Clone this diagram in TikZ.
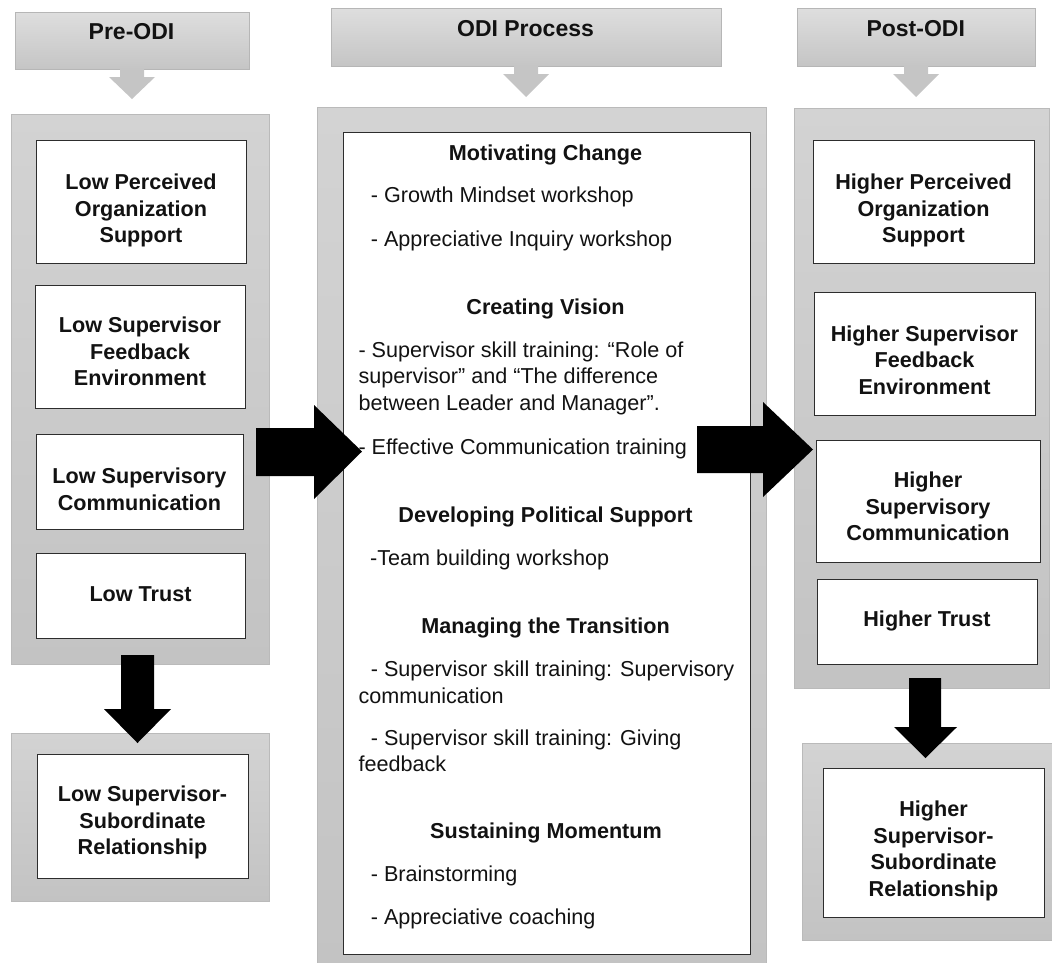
\documentclass[tikz,border=0pt]{standalone}
\usepackage{fontspec}
\setmainfont{Liberation Sans}

\definecolor{panelTop}{RGB}{211,211,211}
\definecolor{panelBot}{RGB}{195,195,195}
\definecolor{panelLine}{RGB}{186,186,186}
\definecolor{hdrTop}{RGB}{222,222,222}
\definecolor{hdrBot}{RGB}{197,197,197}
\definecolor{hdrLine}{RGB}{182,182,182}
\definecolor{boxLine}{RGB}{45,45,45}
\definecolor{ink}{RGB}{18,18,18}

\newcommand{\firstline}{\rule{0pt}{20pt}}

\begin{document}
\begin{tikzpicture}[x=1pt, y=-1pt,
  panel/.style={draw=panelLine, line width=0.8pt, top color=panelTop, bottom color=panelBot,
                inner sep=0pt, outer sep=0pt},
  header/.style={draw=hdrLine, line width=0.8pt, top color=hdrTop, bottom color=hdrBot,
                 inner sep=0pt, outer sep=0pt},
  hdrarrow/.style={fill=hdrBot},
  wbox/.style={draw=boxLine, line width=1pt, fill=white, inner sep=0pt, outer sep=0pt},
  hdrtext/.style={font=\bfseries\fontsize{23}{27}\selectfont, text=ink, anchor=base, inner sep=0pt},
  boxtext/.style={font=\bfseries\fontsize{21.6}{26.5}\selectfont, text=ink, align=center,
                  anchor=north, inner sep=0pt},
  stagehead/.style={font=\bfseries\fontsize{21.6}{26.5}\selectfont, text=ink, anchor=base, inner sep=0pt},
  itemtext/.style={font=\fontsize{21.6}{26.5}\selectfont, text=ink, anchor=base west, inner sep=0pt},
  blockarrow/.style={fill=black}
]
\useasboundingbox (0,0) rectangle (1052,962);

% ---- column headers with their small down arrows
\node[header, minimum width=234pt, minimum height=57pt] (hpre)  at (132,40.5) {};
\node[header, minimum width=390pt, minimum height=58pt] (hproc) at (526,37) {};
\node[header, minimum width=238pt, minimum height=58pt] (hpost) at (916,37) {};
\fill[hdrarrow] (120,68) -- (120,77) -- (109,77) -- (132,99) -- (155,77) -- (144,77) -- (144,68) -- cycle;
\fill[hdrarrow] (514,65) -- (514,74) -- (503,74) -- (526,97) -- (549,74) -- (538,74) -- (538,65) -- cycle;
\fill[hdrarrow] (904,65) -- (904,74) -- (893,74) -- (916,97) -- (939,74) -- (928,74) -- (928,65) -- cycle;
\node[hdrtext] (tpre)  at (131.5,39.3) {Pre-ODI};
\node[hdrtext] (tproc) at (525.5,36.7) {ODI Process};
\node[hdrtext] (tpost) at (915.7,36.7) {Post-ODI};

% ---- grey panels
\node[panel, minimum width=258pt, minimum height=550pt] (ppre)   at (140,389) {};
\node[panel, minimum width=449pt, minimum height=863pt] (pproc)  at (541.5,538.5) {};
\node[panel, minimum width=255pt, minimum height=580pt] (ppost)  at (921.5,398) {};
\node[panel, minimum width=258pt, minimum height=168pt] (preres) at (140,817) {};
\node[panel, minimum width=253pt, minimum height=197pt] (postres) at (928.5,841.5) {};

% ---- Pre-ODI boxes
\node[wbox, minimum width=210pt, minimum height=123pt] (l1) at (141,201.5) {};
\node[wbox, minimum width=210pt, minimum height=123pt] (l2) at (140,346.5) {};
\node[wbox, minimum width=207pt, minimum height=95pt]  (l3) at (139.5,481.5) {};
\node[wbox, minimum width=209pt, minimum height=85pt]  (l4) at (140.5,595.5) {};
\node[wbox, minimum width=211pt, minimum height=124pt] (l5) at (142.5,816) {};
\node[boxtext] (tl1) at (141,169.3)   {\firstline Low Perceived\\Organization\\Support};
\node[boxtext] (tl2) at (140,312.7)   {\firstline Low Supervisor\\Feedback\\Environment};
\node[boxtext] (tl3) at (139.5,463.3) {\firstline Low Supervisory\\Communication};
\node[boxtext] (tl4) at (140.5,581.7) {\firstline Low Trust};
\node[boxtext] (tl5) at (142.5,781.7) {\firstline Low Supervisor-\\Subordinate\\Relationship};

% ---- Post-ODI boxes
\node[wbox, minimum width=221pt, minimum height=123pt] (r1) at (923.5,201.5) {};
\node[wbox, minimum width=221pt, minimum height=123pt] (r2) at (924.5,353.5) {};
\node[wbox, minimum width=224pt, minimum height=122pt] (r3) at (928,501) {};
\node[wbox, minimum width=220pt, minimum height=85pt]  (r4) at (927,621.5) {};
\node[wbox, minimum width=221pt, minimum height=149pt] (r5) at (933.5,842.5) {};
\node[boxtext] (tr1) at (923.5,169.3) {\firstline Higher Perceived\\Organization\\Support};
\node[boxtext] (tr2) at (924.5,321)   {\firstline Higher Supervisor\\Feedback\\Environment};
\node[boxtext] (tr3) at (928,467.7)   {\firstline Higher\\Supervisory\\Communication};
\node[boxtext] (tr4) at (927,606.7)   {\firstline Higher Trust};
\node[boxtext] (tr5) at (933.5,796.7) {\firstline Higher\\Supervisor-\\Subordinate\\Relationship};

% ---- ODI process box
\node[wbox, minimum width=407pt, minimum height=822pt] (mbox) at (546.5,543) {};

\node[stagehead] (s1) at (545.5,160.5) {Motivating Change};
\node[itemtext]  (s1a) at (370.7,202) {- Growth Mindset workshop};
\node[itemtext]  (s1b) at (370.7,246) {- Appreciative Inquiry workshop};

\node[stagehead] (s2) at (545.5,314.5) {Creating Vision};
\node[itemtext]  (s2a) at (358.3,357.3) {- Supervisor skill training: “Role of};
\node[itemtext]  (s2b) at (358.3,383.8) {supervisor” and “The difference};
\node[itemtext]  (s2c) at (358.3,410)   {between Leader and Manager”.};
\node[itemtext]  (s2d) at (358.3,454)   {- Effective Communication training};

\node[stagehead] (s3) at (545.5,522.3) {Developing Political Support};
\node[itemtext]  (s3a) at (370,565) {-Team building workshop};

\node[stagehead] (s4) at (545.5,633.3) {Managing the Transition};
\node[itemtext]  (s4a) at (370.7,676.7) {- Supervisor skill training: Supervisory};
\node[itemtext]  (s4b) at (358.3,703.3) {communication};
\node[itemtext]  (s4c) at (370.7,745.7) {- Supervisor skill training: Giving};
\node[itemtext]  (s4d) at (358.3,771.7) {feedback};

\node[stagehead] (s5) at (546,838.3) {Sustaining Momentum};
\node[itemtext]  (s5a) at (370.7,881.7) {- Brainstorming};
\node[itemtext]  (s5b) at (370.7,924)   {- Appreciative coaching};

% ---- black block arrows between stages
\fill[blockarrow] (256,428) -- (314,428) -- (314,405) -- (362,451.5) -- (314,499) -- (314,476) -- (256,476) -- cycle;
\fill[blockarrow] (697,426) -- (763,426) -- (763,402) -- (813,449.5) -- (763,497) -- (763,473) -- (697,473) -- cycle;
\fill[blockarrow] (121,655) -- (121,709) -- (104,709) -- (137.5,743) -- (171,709) -- (154,709) -- (154,655) -- cycle;
\fill[blockarrow] (909,678) -- (909,727) -- (894,727) -- (925.5,758) -- (957,727) -- (941,727) -- (941,678) -- cycle;
\end{tikzpicture}
\end{document}
